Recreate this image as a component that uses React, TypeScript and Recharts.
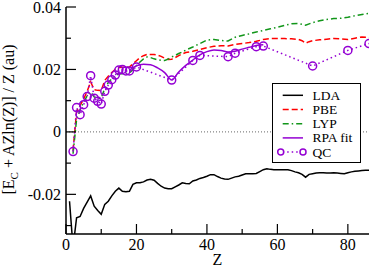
import React from 'react';
import { LineChart, Line, XAxis, YAxis, ReferenceLine, Legend } from 'recharts';

// ---------- data ----------
const ldaZ = [1,2,3,4,5,6,7,8,9,10,11,12,13,14,15,16,17,18,19,20,21,22,23,24,25,26,27,28,29,30,31,32,33,34,35,36,37,38,39,40,41,42,43,44,45,46,47,48,49,50,51,52,53,54,55,56,57,58,59,60,61,62,63,64,65,66,67,68,69,70,71,72,73,74,75,76,77,78,79,80,81,82,83,84,85,86];
const ldaVal = [-0.0222,-0.037,-0.0275,-0.0271,-0.0245,-0.0225,-0.0205,-0.0238,-0.0252,-0.0264,-0.0232,-0.0222,-0.0205,-0.019,-0.018,-0.019,-0.0192,-0.019,-0.0168,-0.0163,-0.0163,-0.016,-0.0154,-0.0152,-0.0155,-0.0165,-0.0174,-0.018,-0.0182,-0.0182,-0.0176,-0.017,-0.0163,-0.0165,-0.0166,-0.0157,-0.0154,-0.0149,-0.0146,-0.0142,-0.0137,-0.0137,-0.0143,-0.0148,-0.0151,-0.0152,-0.0148,-0.0144,-0.0142,-0.0138,-0.0134,-0.0134,-0.0134,-0.0133,-0.0127,-0.0121,-0.0118,-0.012,-0.0121,-0.0121,-0.0121,-0.0121,-0.0121,-0.0124,-0.0128,-0.0131,-0.0136,-0.0145,-0.0136,-0.0134,-0.0132,-0.0131,-0.0131,-0.0132,-0.0132,-0.0131,-0.0132,-0.0133,-0.0134,-0.0131,-0.0128,-0.0126,-0.0125,-0.0124,-0.0123,-0.0123];

const pbeZ = [2,3,4,5,6,7,8,9,10,11,12,13,14,15,16,17,18,19,20,21,22,23,24,25,26,27,28,29,30,31,32,33,34,36,38,40,42,44,46,48,50,52,54,56,58,60,62,64,66,67,68,69,70,72,74,76,78,80,82,84,86];
const pbeVal = [-0.006,0.0065,0.0085,0.0105,0.013,0.016,0.0135,0.0133,0.0132,0.0165,0.0178,0.019,0.02,0.0206,0.0207,0.0207,0.0208,0.0218,0.0228,0.0238,0.0244,0.0248,0.0248,0.0248,0.0246,0.0242,0.0236,0.0232,0.0233,0.0238,0.0244,0.025,0.0254,0.0258,0.0264,0.027,0.0274,0.0276,0.0275,0.028,0.0283,0.0286,0.029,0.0296,0.0299,0.0299,0.0299,0.0298,0.0296,0.0292,0.0284,0.0289,0.0292,0.0295,0.0297,0.0299,0.0298,0.0296,0.03,0.0304,0.0303];

const lypZ = [2,3,4,5,6,7,8,9,10,11,12,13,14,15,16,17,18,19,20,21,22,23,24,25,26,27,28,29,30,31,32,33,34,36,38,40,42,44,46,48,50,52,54,56,58,60,62,64,66,68,70,72,74,76,78,80,82,84,86];
const lypVal = [-0.007,0.004,0.007,0.0095,0.0115,0.0128,0.0112,0.0108,0.0108,0.014,0.0158,0.017,0.0179,0.0186,0.0186,0.0186,0.0188,0.02,0.0212,0.0224,0.0234,0.024,0.0238,0.0234,0.0231,0.0229,0.0229,0.0233,0.024,0.0245,0.0251,0.0256,0.0262,0.0272,0.0283,0.0294,0.0296,0.0293,0.0291,0.0303,0.0309,0.0314,0.032,0.0325,0.033,0.0335,0.0341,0.0346,0.0347,0.0342,0.035,0.0356,0.036,0.0363,0.0364,0.0367,0.0372,0.0376,0.038];

const rpaZ = [18,20,22,24,26,28,30,32,34,36,38,40,42,44,46,48,50,52,54,56];
const rpaVal = [0.0198,0.0212,0.0217,0.0215,0.0205,0.019,0.0166,0.0192,0.0213,0.023,0.0247,0.0257,0.0262,0.0261,0.0256,0.0258,0.0265,0.0271,0.0277,0.0279];

const qcZ = [2,3,4,5,6,7,8,9,10,11,12,13,14,15,16,17,18,20,30,36,38,46,48,54,56,70,80,86];
const qcVal = [-0.0063,0.0078,0.0055,0.0087,0.0113,0.018,0.0108,0.0098,0.0089,0.013,0.015,0.0167,0.0182,0.0198,0.02,0.0195,0.0195,0.0208,0.0166,0.0229,0.0245,0.0241,0.0252,0.0273,0.0275,0.0211,0.0261,0.0283];

const xTicks = [0,10,20,30,40,50,60,70,80];
const xMajor = [0,20,40,60,80];
const yTicks = [-0.03,-0.02,-0.01,0,0.01,0.02,0.03,0.04];
const yMajor = [-0.02,0,0.02,0.04];
const yTickLabels = ['-0.02','0','0.02','0.04'];

const seriesNames = ['LDA','PBE','LYP','RPA fit','QC'];

// ---------- styling ----------
const FONT = '"Liberation Serif", "Times New Roman", serif';
const RED = '#ff0000';
const GREEN = '#12961a';
const VIOLET = '#9400d3';
const MAJOR = 10;
const MINOR = 5;

const toPts = (zs: number[], vs: number[]) => zs.map((z, i) => ({ z, v: vs[i] }));
const ldaData = toPts(ldaZ, ldaVal);
const pbeData = toPts(pbeZ, pbeVal);
const lypData = toPts(lypZ, lypVal);
const rpaData = toPts(rpaZ, rpaVal);
const qcData = toPts(qcZ, qcVal);

const isXMajor = (v: number) => xMajor.includes(v);
const yMajorIdx = (v: number) => yMajor.findIndex((m) => Math.abs(m - v) < 1e-9);

const BottomTick = (p: any) => {
  const { x, y, payload } = p;
  const maj = isXMajor(payload.value);
  return (
    <g>
      <line x1={x} x2={x} y1={y} y2={y - (maj ? MAJOR : MINOR)} stroke="#000" strokeWidth={1.2} />
      {maj && (
        <text x={x} y={y + 16} textAnchor="middle" fontSize={16} fontFamily={FONT} fill="#000">
          {payload.value}
        </text>
      )}
    </g>
  );
};

const TopTick = (p: any) => {
  const { x, y, payload } = p;
  const maj = isXMajor(payload.value);
  return <line x1={x} x2={x} y1={y} y2={y + (maj ? MAJOR : MINOR)} stroke="#000" strokeWidth={1.2} />;
};

const LeftTick = (p: any) => {
  const { x, y, payload } = p;
  const idx = yMajorIdx(payload.value);
  const maj = idx >= 0;
  return (
    <g>
      <line x1={x} x2={x + (maj ? MAJOR : MINOR)} y1={y} y2={y} stroke="#000" strokeWidth={1.2} />
      {maj && (
        <text x={x - 5} y={y + 5.5} textAnchor="end" fontSize={16} fontFamily={FONT} fill="#000">
          {yTickLabels[idx]}
        </text>
      )}
    </g>
  );
};

const RightTick = (p: any) => {
  const { x, y, payload } = p;
  const maj = yMajorIdx(payload.value) >= 0;
  return <line x1={x} x2={x - (maj ? MAJOR : MINOR)} y1={y} y2={y} stroke="#000" strokeWidth={1.2} />;
};

const XLabel = (p: any) => {
  const vb = p.viewBox || { x: 66, y: 234, width: 303, height: 36 };
  return (
    <text x={vb.x + vb.width / 2} y={vb.y + 31} textAnchor="middle" fontSize={16} fontFamily={FONT} fill="#000">
      Z
    </text>
  );
};

const YLabel = (p: any) => {
  const vb = p.viewBox || { x: 0, y: 7, width: 66, height: 227 };
  const cx = 13.5;
  const cy = vb.y + vb.height / 2 - 1;
  return (
    <text x={cx} y={cy} transform={`rotate(-90, ${cx}, ${cy})`} textAnchor="middle" fontSize={16} fontFamily={FONT} fill="#000">
      <tspan>[E</tspan>
      <tspan fontSize={11} dy={4}>C</tspan>
      <tspan dy={-4}> + AZln(Z)] / Z (au)</tspan>
    </text>
  );
};

const LegendBox = () => {
  const rowY = (i: number) => 11.3 + i * 14.2;
  const x1 = 9.7;
  const x2 = 30;
  return (
    <div style={{ width: 89, height: 80, border: '1px solid #000', background: '#fff', boxSizing: 'border-box', position: 'relative' }}>
      <svg width={87} height={78} style={{ position: 'absolute', left: 0, top: 0 }}>
        <line x1={x1} x2={x2} y1={rowY(0)} y2={rowY(0)} stroke="#000" strokeWidth={1.5} />
        <line x1={x1} x2={x2} y1={rowY(1)} y2={rowY(1)} stroke={RED} strokeWidth={1.5} strokeDasharray="6 3" />
        <line x1={x1} x2={x2} y1={rowY(2)} y2={rowY(2)} stroke={GREEN} strokeWidth={1.5} strokeDasharray="6 3 1.5 3" />
        <line x1={x1} x2={x2} y1={rowY(3)} y2={rowY(3)} stroke={VIOLET} strokeWidth={1.5} />
        <line x1={x1} x2={x2} y1={rowY(4)} y2={rowY(4)} stroke={VIOLET} strokeWidth={1.5} strokeDasharray="1.5 3" />
        <circle cx={x1 - 2} cy={rowY(4)} r={3} fill="#fff" stroke={VIOLET} strokeWidth={1.5} />
        <circle cx={x2} cy={rowY(4)} r={3} fill="#fff" stroke={VIOLET} strokeWidth={1.5} />
        {seriesNames.map((n, i) => (
          <text key={n} x={39.5} y={rowY(i) + 4.5} fontSize={13.5} fontFamily={FONT} fill="#000">
            {n}
          </text>
        ))}
      </svg>
    </div>
  );
};

export default function App() {
  return (
    <div style={{ position: 'absolute', left: 0, top: 0, width: 374, height: 270, background: '#fff' }}>
      <LineChart width={374} height={270} margin={{ top: 7, right: 5, bottom: 0, left: 0 }}>
        <XAxis
          xAxisId="b"
          type="number"
          dataKey="z"
          domain={[0, 86]}
          allowDataOverflow
          ticks={xTicks}
          interval={0}
          tickSize={0}
          tickMargin={0}
          tickLine={false}
          tick={<BottomTick />}
          axisLine={{ stroke: '#000', strokeWidth: 1.5 }}
          height={36}
          label={{ content: <XLabel /> }}
        />
        <XAxis
          xAxisId="t"
          orientation="top"
          type="number"
          dataKey="z"
          domain={[0, 86]}
          allowDataOverflow
          ticks={xTicks}
          interval={0}
          tickSize={0}
          tickMargin={0}
          tickLine={false}
          tick={<TopTick />}
          axisLine={{ stroke: '#000', strokeWidth: 1.5 }}
          height={0}
        />
        <YAxis
          yAxisId="l"
          type="number"
          domain={[-0.0327, 0.04]}
          allowDataOverflow
          ticks={yTicks}
          interval={0}
          tickSize={0}
          tickMargin={0}
          tickLine={false}
          tick={<LeftTick />}
          axisLine={{ stroke: '#000', strokeWidth: 1.5 }}
          width={66}
          label={{ content: <YLabel /> }}
        />
        <YAxis
          yAxisId="r"
          orientation="right"
          type="number"
          domain={[-0.0327, 0.04]}
          allowDataOverflow
          ticks={yTicks}
          interval={0}
          tickSize={0}
          tickMargin={0}
          tickLine={false}
          tick={<RightTick />}
          axisLine={{ stroke: '#000', strokeWidth: 1.5 }}
          width={0}
        />
        <ReferenceLine xAxisId="b" yAxisId="l" y={0} stroke="#666" strokeWidth={1} strokeDasharray="1 2" />
        <Line xAxisId="b" yAxisId="l" data={ldaData} dataKey="v" name="LDA" type="linear" stroke="#000" strokeWidth={1.5} dot={false} isAnimationActive={false} />
        <Line xAxisId="b" yAxisId="l" data={pbeData} dataKey="v" name="PBE" type="linear" stroke={RED} strokeWidth={1.5} strokeDasharray="6 3" dot={false} isAnimationActive={false} />
        <Line xAxisId="b" yAxisId="l" data={lypData} dataKey="v" name="LYP" type="linear" stroke={GREEN} strokeWidth={1.5} strokeDasharray="6 3 1.5 3" dot={false} isAnimationActive={false} />
        <Line xAxisId="b" yAxisId="l" data={rpaData} dataKey="v" name="RPA fit" type="monotone" stroke={VIOLET} strokeWidth={1.5} dot={false} isAnimationActive={false} />
        <Line
          xAxisId="b"
          yAxisId="l"
          data={qcData}
          dataKey="v"
          name="QC"
          type="linear"
          stroke={VIOLET}
          strokeWidth={1.5}
          strokeDasharray="1.5 3"
          dot={{ r: 4, stroke: VIOLET, strokeWidth: 1.5, fill: 'none', strokeDasharray: '' }}
          isAnimationActive={false}
        />
        <Legend
          layout="vertical"
          align="center"
          verticalAlign="middle"
          wrapperStyle={{ left: 272, top: 83, width: 89, height: 80 }}
          content={<LegendBox />}
        />
      </LineChart>
    </div>
  );
}
